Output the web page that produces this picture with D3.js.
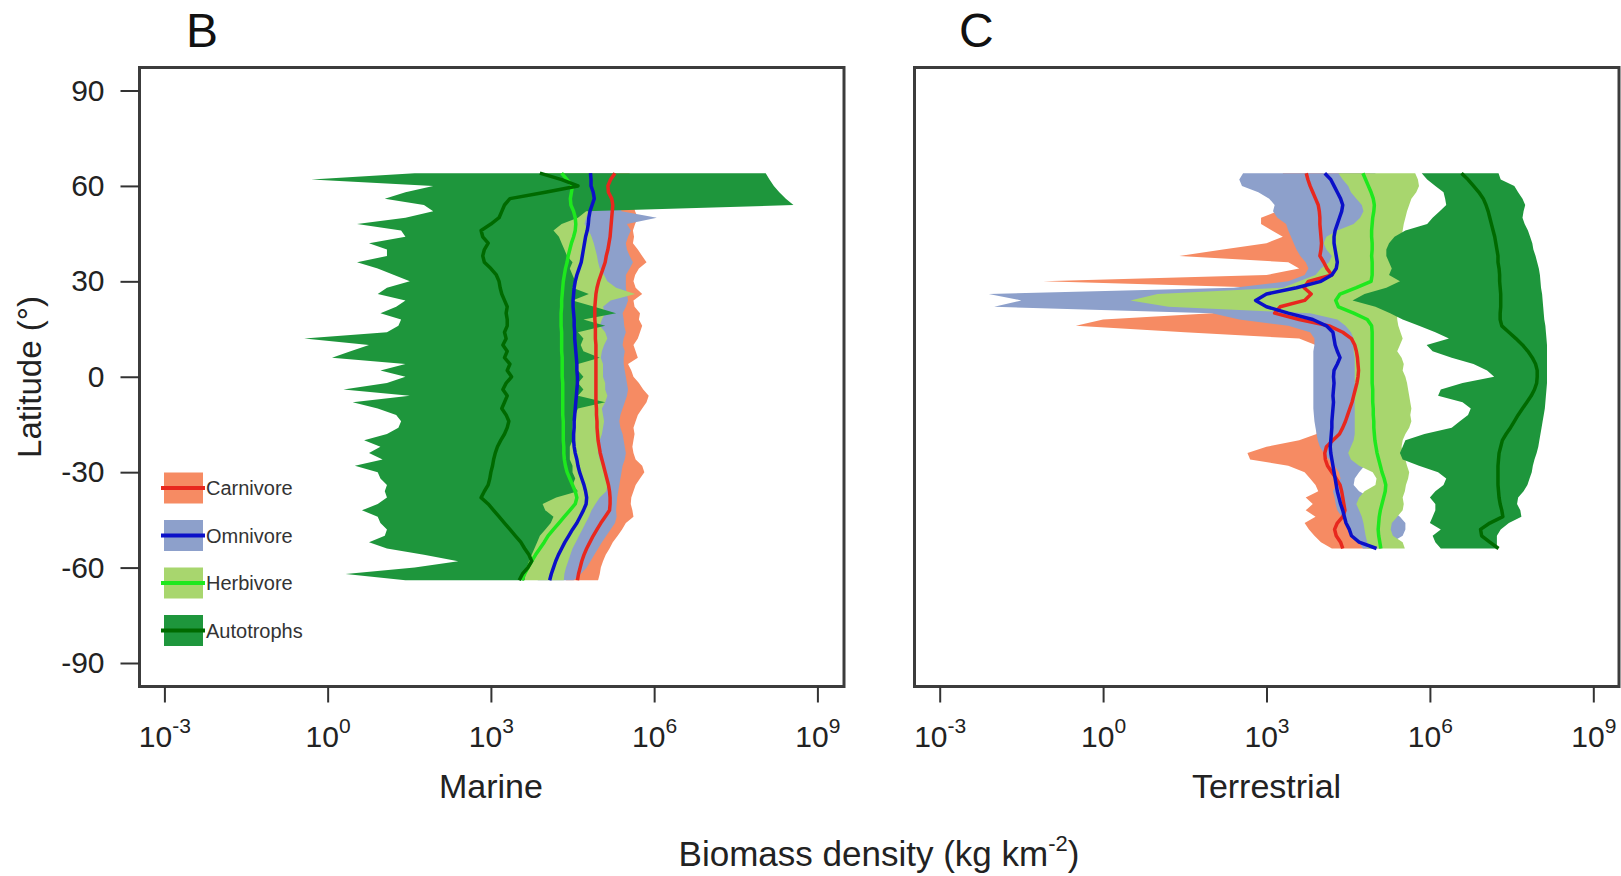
<!DOCTYPE html>
<html>
<head>
<meta charset="utf-8">
<script src="https://cdn.jsdelivr.net/npm/d3@7"></script>
<style>
  body { margin: 0; background: #fff; }
  text { font-family: "Liberation Sans", Arial, sans-serif; }
</style>
</head>
<body>
<svg id="chart" width="1621" height="876"></svg>
<script>
// all values are log10(biomass density, kg km^-2)
const marLat = [64,62,60,58,56,54,52,50,48,46,44,42,40,38,36,34,32,30,28,26,24,22,20,18,16,14,12,10,8,6,4,2,0,-2,-4,-6,-8,-10,-12,-14,-16,-18,-20,-22,-24,-26,-28,-30,-32,-34,-36,-38,-40,-42,-44,-46,-48,-50,-52,-54,-56,-58,-60,-62,-64];

const marCarnLo = [4.55,4.55,4.6,4.6,4.6,4.58,4.56,4.55,4.55,4.54, 4.52,4.5,4.5,4.48,4.48,4.46,4.45,4.45,4.45,4.44, 4.44,4.44,4.45,4.45,4.45,4.46,4.46,4.46,4.46,4.46, 4.47,4.47,4.47,4.47,4.47,4.46,4.46,4.46,4.46,4.45, 4.45,4.45,4.45,4.46,4.47,4.48,4.5,4.52,4.55,4.58, 4.6,4.62,4.62,4.6,4.55,4.5,4.46,4.42,4.4,4.38, 4.36,4.35,4.35,4.36,4.38];
const marCarnMid = [5.28,5.20,5.15,5.16,5.22,5.24,5.23,5.22,5.21,5.20, 5.19,5.17,5.15,5.12,5.10,5.06,5.02,4.98,4.95,4.93, 4.92,4.91,4.91,4.91,4.92,4.92,4.92,4.93,4.93,4.93, 4.93,4.93,4.93,4.93,4.93,4.93,4.93,4.94,4.94,4.95, 4.95,4.96,4.97,4.99,5.01,5.04,5.07,5.10,5.13,5.16, 5.18,5.19,5.19,5.18,5.10,5.02,4.95,4.88,4.82,4.76, 4.71,4.67,4.64,4.61,4.59];
const marCarnHi = [5.55,5.55,5.6,5.6,5.6,5.62,5.65,5.7,5.65,5.61, 5.63,5.61,5.70,5.78,5.86,5.72,5.65,5.62,5.66,5.78, 5.62,5.64,5.74,5.72,5.78,5.74,5.70,5.62,5.66,5.70, 5.52,5.58,5.62,5.72,5.80,5.90,5.86,5.78,5.70,5.66, 5.62,5.64,5.62,5.60,5.62,5.66,5.78,5.82,5.74,5.66, 5.62,5.58,5.57,5.60,5.62,5.48,5.41,5.33,5.24,5.18, 5.11,5.06,5.02,5.0,4.97];

const marOmniLo = [4.3,4.3,4.32,4.34,4.35,4.35,4.34,4.33,4.32,4.31, 4.3,4.28,4.27,4.26,4.25,4.24,4.22,4.2,4.2,4.19, 4.19,4.19,4.2,4.2,4.2,4.21,4.21,4.22,4.22,4.23, 4.23,4.24,4.24,4.24,4.23,4.23,4.22,4.22,4.21,4.21, 4.2,4.2,4.2,4.21,4.22,4.24,4.26,4.28,4.3,4.32, 4.34,4.35,4.34,4.3,4.25,4.2,4.15,4.1,4.05,4.0, 3.96,3.92,3.9,3.88,3.86];
const marOmniMid = [4.83,4.84,4.84,4.88,4.90,4.86,4.82,4.80,4.79,4.77, 4.74,4.72,4.70,4.68,4.66,4.62,4.58,4.55,4.53,4.52, 4.51,4.51,4.52,4.53,4.53,4.54,4.54,4.55,4.56,4.57, 4.58,4.58,4.59,4.59,4.58,4.57,4.56,4.55,4.54,4.53, 4.53,4.52,4.52,4.53,4.55,4.58,4.60,4.63,4.67,4.71, 4.74,4.76,4.75,4.70,4.64,4.58,4.50,4.43,4.36,4.30, 4.24,4.19,4.15,4.11,4.08];
const marOmniHi = [5.3,5.3,5.32,5.32,5.34,5.36,5.4,6.05,5.5,5.57, 5.52,5.48,5.5,5.55,5.61,5.55,5.48,5.48,5.48,5.5, 5.52,5.48,5.42,5.44,5.45,5.48,5.44,5.42,5.46,5.44, 5.44,5.46,5.48,5.5,5.52,5.5,5.46,5.42,5.38,5.36, 5.38,5.42,5.44,5.46,5.48,5.46,5.42,5.4,5.38,5.36, 5.34,5.32,5.31,5.3,5.31,5.28,5.2,5.12,5.04,4.97, 4.9,4.83,4.76,4.65,4.52];

const marHerbLo = [4.0,4.02,4.05,4.05,4.05,4.08,4.1,4.15,4.1,4.05, 4.1,4.2,4.12,4.1,4.1,4.1,4.08,4.08,4.08,4.06, 4.06,4.05,4.05,4.05,4.05,4.06,4.06,4.06,4.06,4.06, 4.07,4.07,4.07,4.07,4.07,4.07,4.07,4.08,4.08,4.08, 4.08,4.08,4.08,4.09,4.1,4.1,4.12,4.14,4.16,4.18, 4.2,4.0,3.92,4.0,4.05,4.0,3.95,3.85,3.8,3.75, 3.7,3.66,3.62,3.6,3.58];
const marHerbMid = [4.30,4.40,4.50,4.48,4.46,4.47,4.52,4.55,4.56,4.55, 4.52,4.48,4.45,4.42,4.40,4.37,4.35,4.33,4.32,4.31, 4.30,4.30,4.29,4.29,4.29,4.30,4.30,4.30,4.30,4.31, 4.31,4.31,4.31,4.32,4.32,4.32,4.32,4.32,4.32,4.33, 4.33,4.33,4.33,4.34,4.34,4.35,4.37,4.40,4.45,4.50, 4.55,4.58,4.55,4.45,4.35,4.25,4.15,4.05,3.98,3.90, 3.82,3.75,3.68,3.62,3.57];
const marHerbHi = [4.9,4.9,4.9,4.9,4.9,4.85,4.8,4.75,4.72,4.80, 4.85,4.89,4.92,4.95,4.97,5.0,5.08,5.14,5.3,5.65, 5.2,5.06,5.1,5.04,5.0,5.1,5.14,5.08,5.04,5.02, 5.06,5.06,5.06,5.1,5.1,5.14,5.1,5.04,5.06,5.08, 5.06,5.04,5.0,4.98,4.97,5.0,5.06,5.08,5.12,5.14, 5.12,5.0,4.92,4.85,4.80,4.74,4.68,4.62,4.56,4.50, 4.46,4.42,4.38,4.35,4.34];

const marAutoLo = [1.60,-0.30,1.94,1.43,1.05,1.77,1.94,1.43,0.54,1.35, 1.43,0.76,1.09,1.09,0.54,0.92,1.22,1.51,1.09,0.92, 1.43,1.26,0.97,1.35,1.30,1.09,-0.43,0.76,0.42,0.08, 1.43,0.97,1.43,1.09,0.29,1.51,0.46,0.92,1.26,1.35, 1.30,1.09,0.67,0.97,0.76,1.01,0.50,0.92,0.97,1.09, 1.05,1.09,0.92,0.63,0.92,0.97,1.09,1.05,0.76,1.09, 1.77,2.40,1.60,0.33,1.43];
const marAutoMid = [3.90,4.30,4.60,4.00,3.35,3.25,3.20,3.15,3.00,2.82, 2.85,2.95,2.88,2.85,2.88,3.00,3.10,3.15,3.17,3.20, 3.25,3.30,3.28,3.30,3.30,3.25,3.28,3.22,3.30,3.25, 3.35,3.30,3.38,3.28,3.22,3.30,3.25,3.20,3.28,3.33, 3.30,3.25,3.18,3.12,3.08,3.05,3.03,3.00,2.98,2.95, 2.88,2.82,2.95,3.05,3.15,3.25,3.35,3.45,3.55,3.62, 3.70,3.75,3.68,3.58,3.52];
const marAutoHi = [8.05,8.12,8.20,8.30,8.42,8.56,4.75,4.6,4.3,4.15, 4.25,4.3,4.35,4.4,4.5,4.45,4.5,4.55,4.5,4.8, 4.5,4.9,5.3,4.7,5.1,4.6,4.7,4.65,4.7,5.0, 4.6,4.6,4.7,4.6,4.7,4.6,5.1,4.6,4.55,4.5, 4.5,4.5,4.5,4.45,4.45,4.45,4.5,4.5,4.55,4.5, 4.6,4.2,3.95,4.0,4.15,4.1,4.0,3.9,3.85,3.8, 3.75,3.7,3.66,3.63,3.62];

const terLat = [64,62,60,58,56,54,52,50,48,46,44,42,40,38,36,34,32,30,28,26,24,22,20,18,16,14,12,10,8,6,4,2,0,-2,-4,-6,-8,-10,-12,-14,-16,-18,-20,-22,-24,-26,-28,-30,-32,-34,-36,-38,-40,-42,-44,-46,-48,-50,-52,-54];

const terCarnLo = [3.3,3.3,3.3,3.2,3.25,3.3,3.2,2.9,2.9,3.1, 3.3,3.0,2.2,1.4,3.4,3.6,3.0,-1.1,3.0,3.2, 3.2,3.0,2.0,0.0,-0.5,1.5,3.6,3.9,3.9,3.9, 3.9,3.9,3.9,3.9,3.9,3.9,3.9,3.9,3.9,3.9, 3.92,3.92,3.6,3.0,2.65,2.7,3.4,3.7,3.8,3.9, 3.95,3.72,3.85,3.72,3.9,3.7,3.78,3.88,4.0,4.2];
const terCarnMid = [3.73,3.76,3.80,3.85,3.90,3.95,3.97,3.98,3.98,3.99, 4.00,4.01,4.00,3.98,4.05,4.11,4.20,3.77,3.69,3.82, 3.70,3.25,3.15,3.60,4.15,4.40,4.56,4.62,4.65,4.67, 4.68,4.69,4.68,4.66,4.63,4.60,4.57,4.53,4.49,4.45, 4.40,4.34,4.22,4.10,4.07,4.08,4.12,4.20,4.28,4.35, 4.38,4.40,4.42,4.44,4.40,4.30,4.25,4.28,4.36,4.40];
const terCarnHi = [4.9,4.92,4.94,4.95,4.96,4.96,4.95,4.95,4.94,4.94, 4.93,4.93,4.92,4.92,4.92,4.92,4.9,4.88,4.85,4.85, 4.85,4.85,4.88,4.9,4.95,5.0,5.05,5.05,5.05,5.05, 5.05,5.05,5.05,5.05,5.05,5.05,5.04,5.02,5.0,4.98, 4.96,4.94,4.92,4.9,4.88,4.85,4.75,4.65,4.6,4.58, 4.65,4.8,4.9,5.0,5.1,5.2,5.2,5.1,5.0,4.9];

const terOmniLo = [2.57,2.50,2.55,2.85,3.05,3.15,3.12,3.20,3.36,3.40, 3.45,3.50,3.55,3.62,3.72,3.77,3.70,3.40,2.40,-2.10, -1.50,-2.00,2.00,2.50,3.40,3.80,3.88,3.88,3.86,3.86, 3.86,3.86,3.86,3.86,3.86,3.86,3.86,3.86,3.87,3.88, 3.90,3.92,3.94,3.98,4.05,4.15,4.25,4.33,4.36,4.28, 4.22,4.25,4.27,4.30,4.38,4.45,4.52,4.60,4.70,4.77];
const terOmniMid = [4.07,4.18,4.24,4.30,4.36,4.40,4.38,4.34,4.30,4.26, 4.24,4.24,4.26,4.28,4.30,4.28,4.20,4.00,3.55,3.00, 2.80,3.00,3.40,3.85,4.10,4.22,4.24,4.26,4.30,4.35, 4.30,4.24,4.23,4.24,4.23,4.22,4.23,4.22,4.21,4.20, 4.20,4.19,4.18,4.17,4.18,4.20,4.22,4.24,4.26,4.28, 4.30,4.33,4.36,4.40,4.43,4.46,4.52,4.56,4.70,5.02];
const terOmniHi = [5.0,5.0,5.0,4.98,4.98,4.96,4.96,4.95,4.95,4.95, 4.94,4.94,4.95,4.96,4.96,4.95,4.94,4.92,4.9,4.9, 4.9,4.9,4.92,4.95,4.98,5.0,5.02,5.02,5.02,5.02, 5.02,5.02,5.02,5.02,5.02,5.02,5.02,5.02,5.02,5.02, 5.0,5.0,5.0,4.98,4.96,4.9,4.8,4.7,4.62,4.6, 4.7,4.9,5.1,5.3,5.45,5.55,5.55,5.5,5.3,5.1];

const terHerbLo = [4.32,4.40,4.50,4.55,4.65,4.75,4.78,4.72,4.60,4.30, 4.10,4.05,4.10,4.20,4.15,4.00,3.90,3.60,3.30,1.00, 0.50,1.20,3.80,4.30,4.45,4.55,4.60,4.60,4.60,4.62, 4.62,4.62,4.62,4.62,4.62,4.62,4.62,4.62,4.62,4.62, 4.62,4.62,4.60,4.55,4.50,4.55,4.70,4.95,5.02,5.00, 4.80,4.70,4.65,4.70,4.75,4.78,4.80,4.82,4.85,4.85];
const terHerbMid = [4.77,4.82,4.87,4.92,4.96,4.98,4.97,4.95,4.94,4.93, 4.93,4.94,4.94,4.93,4.94,4.94,4.94,4.92,4.65,4.35, 4.27,4.32,4.60,4.85,4.93,4.94,4.94,4.94,4.94,4.94, 4.94,4.94,4.94,4.94,4.95,4.95,4.95,4.96,4.96,4.97, 4.97,4.98,4.99,5.01,5.03,5.06,5.09,5.12,5.16,5.19, 5.18,5.15,5.12,5.09,5.07,5.06,5.05,5.06,5.08,5.10];
const terHerbHi = [5.73,5.78,5.80,5.75,5.66,5.62,5.58,5.55,5.52,5.50, 5.48,5.45,5.50,5.58,5.60,5.52,5.48,5.45,5.40,5.35, 5.35,5.38,5.40,5.40,5.42,5.46,5.50,5.45,5.40,5.48, 5.52,5.50,5.55,5.58,5.60,5.62,5.64,5.66,5.64,5.66, 5.62,5.55,5.50,5.48,5.50,5.55,5.58,5.62,5.60,5.56, 5.54,5.50,5.52,5.50,5.40,5.30,5.28,5.32,5.50,5.54];

const terAutoLo = [5.85,5.95,6.10,6.25,6.28,6.30,6.18,6.05,5.95,5.55, 5.35,5.25,5.20,5.20,5.25,5.30,5.25,5.45,5.20,4.80, 4.58,5.00,5.27,5.50,5.80,6.10,6.35,5.94,6.05,6.40, 6.80,7.05,7.18,6.60,6.20,6.15,6.60,6.75,6.70,6.55, 6.40,5.90,5.55,5.50,5.45,5.50,5.80,6.15,6.30,6.25, 6.10,6.00,6.10,6.10,6.05,6.00,6.20,6.05,6.10,6.20];
const terAutoMid = [6.58,6.70,6.80,6.90,6.98,7.03,7.07,7.10,7.13,7.16, 7.19,7.21,7.23,7.25,7.25,7.27,7.28,7.28,7.29,7.30, 7.30,7.30,7.29,7.29,7.32,7.45,7.58,7.70,7.80,7.88, 7.94,7.97,7.97,7.96,7.92,7.86,7.78,7.70,7.62,7.55, 7.48,7.40,7.33,7.30,7.27,7.26,7.25,7.25,7.25,7.25, 7.26,7.27,7.29,7.32,7.34,7.10,6.93,6.95,7.10,7.26];
const terAutoHi = [7.26,7.30,7.55,7.62,7.70,7.75,7.72,7.70,7.74,7.80, 7.84,7.88,7.90,7.94,7.97,8.00,8.02,8.03,8.04,8.06, 8.07,8.08,8.09,8.10,8.12,8.13,8.14,8.15,8.15,8.15, 8.15,8.15,8.15,8.15,8.14,8.13,8.12,8.11,8.09,8.07, 8.05,8.03,8.01,7.99,7.96,7.92,7.89,7.87,7.83,7.79, 7.72,7.62,7.60,7.66,7.68,7.45,7.30,7.23,7.23,7.23];

const groupNames = ["Carnivore", "Omnivore", "Herbivore", "Autotrophs"];
const bandColors = ["#f68b63", "#8da0cb", "#a8d66e", "#1e963c"];
const lineColors = ["#e8281e", "#0b10c8", "#1ee81e", "#006a00"];
const latTicks = [-90, -60, -30, 0, 30, 60, 90];
const massTicks = [1e-3, 1, 1e3, 1e6, 1e9];

const panels = [
  {letter: "B", title: "Marine", left: 139.5, right: 844, x0: 164.4, x1: 817.4, lat: marLat,
   series: [[marCarnLo, marCarnMid, marCarnHi], [marOmniLo, marOmniMid, marOmniHi],
            [marHerbLo, marHerbMid, marHerbHi], [marAutoLo, marAutoMid, marAutoHi]]},
  {letter: "C", title: "Terrestrial", left: 914.5, right: 1619, x0: 939.7, x1: 1593.3, lat: terLat,
   series: [[terCarnLo, terCarnMid, terCarnHi], [terOmniLo, terOmniMid, terOmniHi],
            [terHerbLo, terHerbMid, terHerbHi], [terAutoLo, terAutoMid, terAutoHi]]}
];

const svg = d3.select("#chart");
const frameTop = 67.5, frameBottom = 686.5;
const y = d3.scaleLinear().domain([-90, 90]).range([663, 90.5]);

panels.forEach((p, pi) => {
  const x = d3.scaleLog().domain([1e-3, 1e9]).range([p.x0, p.x1]);
  const g = svg.append("g");

  const rows = p.series.map(s => p.lat.map((l, i) => ({lat: l, lo: s[0][i], mid: s[1][i], hi: s[2][i]})));

  const area = d3.area()
    .y(d => y(d.lat))
    .x0(d => x(10 ** d.lo))
    .x1(d => x(10 ** d.hi));
  const line = d3.line()
    .x(d => x(10 ** d.mid))
    .y(d => y(d.lat));

  // bands first (carnivore at the bottom), then the median lines on top
  rows.forEach((r, k) => {
    g.append("path").attr("d", area(r)).attr("fill", bandColors[k]);
  });
  rows.forEach((r, k) => {
    g.append("path").attr("d", line(r))
      .attr("fill", "none").attr("stroke", lineColors[k])
      .attr("stroke-width", 3.5).attr("stroke-linejoin", "round");
  });

  // frame
  g.append("rect")
    .attr("x", p.left).attr("y", frameTop)
    .attr("width", p.right - p.left).attr("height", frameBottom - frameTop)
    .attr("fill", "none").attr("stroke", "#3c3c3c").attr("stroke-width", 3);

  // x axis
  const xa = g.append("g").attr("transform", `translate(0,${frameBottom})`)
    .call(d3.axisBottom(x).tickValues(massTicks).tickSize(16));
  xa.select(".domain").remove();
  xa.selectAll(".tick line").attr("stroke", "#333").attr("stroke-width", 2);
  xa.selectAll(".tick text").text(null)
    .attr("y", 60).attr("dy", null)
    .attr("font-size", 30).attr("fill", "#222")
    .each(function(d) {
      const t = d3.select(this);
      t.append("tspan").text("10");
      t.append("tspan").attr("font-size", 21).attr("dy", -14).text(String(Math.round(Math.log10(d))));
    });

  g.append("text").attr("x", x(1e3)).attr("y", 798)
    .attr("text-anchor", "middle").attr("font-size", 34).attr("fill", "#222")
    .text(p.title);

  g.append("text").attr("x", pi === 0 ? 186 : 959).attr("y", 47)
    .attr("font-size", 48).attr("fill", "#111")
    .text(p.letter);

  if (pi === 0) {
    const ya = g.append("g").attr("transform", `translate(${p.left},0)`)
      .call(d3.axisLeft(y).tickValues(latTicks).tickSize(19).tickPadding(16)
        .tickFormat(d => String(d)));
    ya.select(".domain").remove();
    ya.selectAll(".tick line").attr("stroke", "#333").attr("stroke-width", 2);
    ya.selectAll(".tick text").attr("font-size", 30).attr("fill", "#222");

    // legend
    const leg = g.append("g");
    groupNames.forEach((name, k) => {
      const cy = 488 + k * 47.5;
      leg.append("rect").attr("x", 164).attr("y", cy - 15.5)
        .attr("width", 39).attr("height", 31).attr("fill", bandColors[k]);
      leg.append("line").attr("x1", 161).attr("x2", 205)
        .attr("y1", cy).attr("y2", cy)
        .attr("stroke", lineColors[k]).attr("stroke-width", 4);
      leg.append("text").attr("x", 206).attr("y", cy).attr("dy", "0.35em")
        .attr("font-size", 20).attr("fill", "#333").text(name);
    });
  }
});

svg.append("text")
  .attr("transform", "translate(41,377) rotate(-90)")
  .attr("text-anchor", "middle").attr("font-size", 33).attr("fill", "#222")
  .text("Latitude (°)");

const xt = svg.append("text").attr("x", 879).attr("y", 866)
  .attr("text-anchor", "middle").attr("font-size", 35).attr("fill", "#222");
xt.append("tspan").text("Biomass density (kg km");
xt.append("tspan").attr("font-size", 22).attr("dy", -15).text("-2");
xt.append("tspan").attr("dy", 15).text(")");
</script>
</body>
</html>
